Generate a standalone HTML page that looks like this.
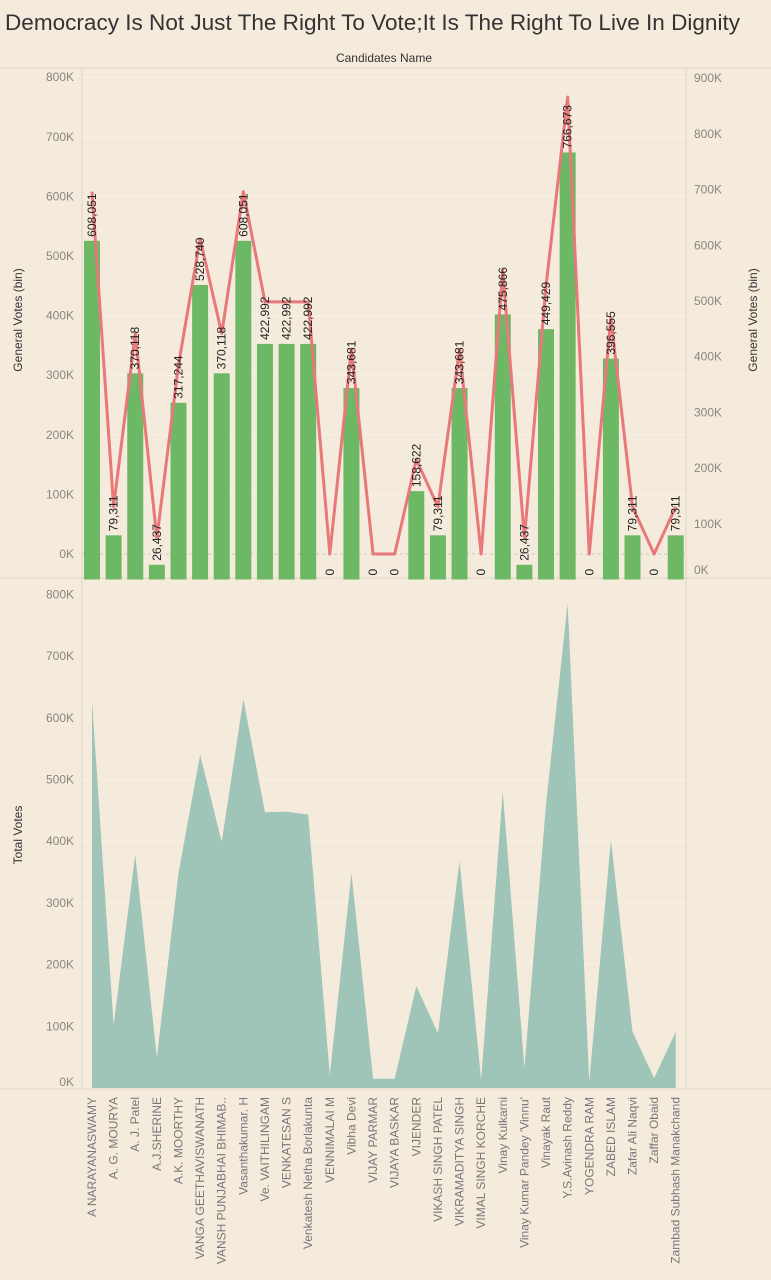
<!DOCTYPE html>
<html><head><meta charset="utf-8"><style>
html,body{margin:0;padding:0;background:#f5ebdc;}
svg{display:block;font-family:"Liberation Sans",sans-serif;}
</style></head><body>
<svg id="c" width="771" height="1280" viewBox="0 0 771 1280">
<rect width="771" height="1280" fill="#f5ebdc"/>
<text x="5" y="30" font-size="22" fill="#333" textLength="735" lengthAdjust="spacingAndGlyphs">Democracy Is Not Just The Right To Vote;It Is The Right To Live In Dignity</text>
<text x="384" y="62" font-size="12" fill="#333" text-anchor="middle">Candidates Name</text>
<line x1="0" y1="68" x2="771" y2="68" stroke="#ddd5c8"/>
<line x1="0" y1="578" x2="771" y2="578" stroke="#ddd5c8"/>
<line x1="0" y1="1089" x2="771" y2="1089" stroke="#ddd5c8"/>
<line x1="82" y1="68" x2="82" y2="1089" stroke="#ddd5c8"/>
<line x1="686" y1="68" x2="686" y2="1089" stroke="#ddd5c8"/>
<text transform="translate(22,320) rotate(-90)" font-size="12" fill="#333" text-anchor="middle">General Votes (bin)</text>
<text transform="translate(757,320) rotate(-90)" font-size="12" fill="#333" text-anchor="middle">General Votes (bin)</text>
<text transform="translate(22,835) rotate(-90)" font-size="12" fill="#333" text-anchor="middle">Total Votes</text>
<g id="g"></g>
</svg>
<script>
const names=["A NARAYANASWAMY","A. G. MOURYA","A. J. Patel","A.J.SHERINE","A.K. MOORTHY","VANGA GEETHAVISWANATH","VANSH PUNJABHAI BHIMAB..","Vasanthakumar. H","Ve. VAITHILINGAM","VENKATESAN S","Venkatesh Netha Borlakunta","VENNIMALAI M","Vibha Devi","VIJAY PARMAR","VIJAYA BASKAR","VIJENDER","VIKASH SINGH PATEL","VIKRAMADITYA SINGH","VIMAL SINGH KORCHE","Vinay Kulkarni","Vinay Kumar Pandey 'Vinnu'","Vinayak Raut","Y.S.Avinash Reddy","YOGENDRA RAM","ZABED ISLAM","Zafar Ali Naqvi","Zaffar Obaid","Zambad Subhash Manakchand"];
const generalVotes=[608051,79311,370118,26437,317244,528740,370118,608051,422992,422992,422992,0,343681,0,0,158622,79311,343681,0,475866,26437,449429,766673,0,396555,79311,0,79311];
const totalVotes=[629000,102000,378000,49000,348000,540000,399000,630000,447000,448000,443000,21000,348000,15000,15000,165000,89000,368000,13000,481000,32000,460000,786000,10000,402000,91000,16000,91000];
const leftTicks=[0,100000,200000,300000,400000,500000,600000,700000,800000];
const rightTicks=[0,100000,200000,300000,400000,500000,600000,700000,800000,900000];
const bottomTicks=[0,100000,200000,300000,400000,500000,600000,700000,800000];
const NS="http://www.w3.org/2000/svg";
const g=document.getElementById('g');
function mk(t,a,p){const e=document.createElementNS(NS,t);for(const k in a)e.setAttribute(k,a[k]);(p||g).appendChild(e);return e;}
const x=i=>92+i*21.62;
const yL=v=>554-v/100000*59.6;
const yR=v=>579.5-v/100000*55.7;
const yB=v=>1088-v/100000*61.7;
const fmt=v=>v.toLocaleString('en-US');
const kl=v=>(v/1000)+'K';
// gridlines + ticks
leftTicks.forEach(v=>{
 let l=mk('line',{x1:82,x2:686,y1:yL(v),y2:yL(v),stroke:v===0?'#cfc6b8':'#f9f1e6','stroke-dasharray':v===0?'3,3':''});
 
 
 let t=mk('text',{x:74,y:yL(v)+4,'font-size':12,fill:'#8a8580','text-anchor':'end'});t.textContent=kl(v);
 
 
});
rightTicks.forEach(v=>{
 let t=mk('text',{x:694,y:Math.min(yR(v)+4,574),'font-size':12,fill:'#8a8580'});t.textContent=kl(v);
 
 
});
bottomTicks.forEach(v=>{
 let l=mk('line',{x1:82,x2:686,y1:yB(v),y2:yB(v),stroke:'#f9f1e6'});
 
 
 let t=mk('text',{x:74,y:Math.min(yB(v)+4,1086),'font-size':12,fill:'#8a8580','text-anchor':'end'});t.textContent=kl(v);
 
 
});
// bars
generalVotes.forEach((v,i)=>{
 let b=mk('rect',{x:x(i)-8,y:yR(v),width:16,height:579.5-yR(v),fill:'#6db865'});
 
 
});
// line
let pl=mk('polyline',{points:generalVotes.map((v,i)=>x(i)+','+yL(v)).join(' '),fill:'none',stroke:'#e8787a','stroke-width':3,'stroke-linejoin':'round'});


// labels
generalVotes.forEach((v,i)=>{
 let yy=yR(v)-4;
 let t=mk('text',{transform:`translate(${x(i)+4},${yy}) rotate(-90)`,'font-size':12,fill:'#222'});t.textContent=fmt(v);
 
 
});
// area
let d='M'+x(0)+','+yB(0)+' '+totalVotes.map((v,i)=>'L'+x(i)+','+yB(v)).join(' ')+' L'+x(totalVotes.length-1)+','+yB(0)+' Z';
let ar=mk('path',{d:d,fill:'#9fc4b8'});


// x labels
names.forEach((n,i)=>{
 let t=mk('text',{transform:`translate(${x(i)+4},1097) rotate(-90)`,'font-size':12,fill:'#777','text-anchor':'end'});t.textContent=n;
 
 
});
</script>
</body></html>
